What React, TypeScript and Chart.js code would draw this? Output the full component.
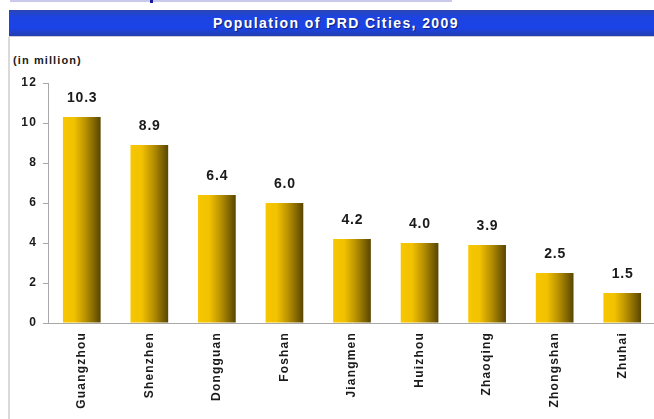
import React, { useEffect, useRef } from "react";
import { Chart, registerables } from "chart.js";

Chart.register(...registerables);

const TITLE = "Population of PRD Cities, 2009";
const UNIT_LABEL = "(in million)";
const cities = ["Guangzhou", "Shenzhen", "Dongguan", "Foshan", "Jiangmen", "Huizhou", "Zhaoqing", "Zhongshan", "Zhuhai"];
const population = [10.3, 8.9, 6.4, 6.0, 4.2, 4.0, 3.9, 2.5, 1.5];
const yTicks = [0, 2, 4, 6, 8, 10, 12];

const FONT = "'Liberation Sans', Arial, sans-serif";
const BAR_PCT = 0.558;

const valueLabels = {
  id: "valueLabels",
  beforeDraw(chart: any) {
    (chart.ctx as any).letterSpacing = "1.2px";
  },
  afterDatasetsDraw(chart: any) {
    const ctx = chart.ctx;
    const meta = chart.getDatasetMeta(0);
    ctx.save();
    (ctx as any).letterSpacing = "0.8px";
    ctx.font = `bold 14px ${FONT}`;
    ctx.fillStyle = "#1a1a1a";
    ctx.textAlign = "center";
    ctx.textBaseline = "middle";
    meta.data.forEach((el: any, i: number) => {
      ctx.fillText(population[i].toFixed(1), el.x + 0.4, el.y - 19);
    });
    ctx.restore();
  },
};

export default function App() {
  const ref = useRef<HTMLCanvasElement>(null);
  useEffect(() => {
    if (!ref.current) return;
    const chart = new Chart(ref.current, {
      type: "bar",
      data: {
        labels: cities,
        datasets: [
          {
            data: population,
            barPercentage: BAR_PCT,
            categoryPercentage: 1,
            borderWidth: 0,
            backgroundColor: (c: any) => {
              const ch = c.chart;
              const xs = ch.scales && ch.scales.x;
              if (!ch.chartArea || !xs) return "#d8aa00";
              const center = xs.getPixelForValue(c.dataIndex);
              const cw = (ch.chartArea.right - ch.chartArea.left) / cities.length;
              const w = cw * BAR_PCT;
              const g = ch.ctx.createLinearGradient(center - w / 2, 0, center + w / 2, 0);
              g.addColorStop(0, "#f8c700");
              g.addColorStop(0.3, "#f2c100");
              g.addColorStop(0.6, "#b89100");
              g.addColorStop(1, "#584500");
              return g;
            },
          },
        ],
      },
      options: {
        animation: false,
        responsive: false,
        devicePixelRatio: 1,
        layout: { padding: { top: 83, right: 8, left: 0, bottom: 0 } },
        plugins: { legend: { display: false }, tooltip: { enabled: false }, title: { display: false } },
        scales: {
          x: {
            afterFit: (s: any) => {
              s.height = 96;
            },
            grid: { display: false, drawTicks: false, drawOnChartArea: false },
            border: { display: true, color: "#a8a8a8", width: 1 },
            ticks: {
              autoSkip: false,
              minRotation: 90,
              maxRotation: 90,
              padding: 9,
              color: "#1a1a1a",
              font: { family: FONT, size: 12, weight: "bold" },
            },
          },
          y: {
            min: 0,
            max: 12,
            afterFit: (s: any) => {
              s.width = 48;
            },
            afterBuildTicks: (s: any) => {
              s.ticks = yTicks.map((v) => ({ value: v }));
            },
            grid: { drawOnChartArea: false, drawTicks: true, tickLength: 5, color: "#a8a8a8" },
            border: { display: true, color: "#a8a8a8", width: 1 },
            ticks: {
              padding: 6,
              color: "#1a1a1a",
              font: { family: FONT, size: 12, weight: "bold" },
            },
          },
        },
      },
      plugins: [valueLabels],
    } as any);
    return () => chart.destroy();
  }, []);

  return (
    <div
      style={{
        position: "fixed",
        left: 0,
        top: 0,
        width: 654,
        height: 419,
        overflow: "hidden",
        background: "#fff",
        fontFamily: FONT,
      }}
    >
      <div style={{ position: "absolute", left: 10, top: 0, width: 442, height: 2, background: "#c9c9ec" }} />
      <div style={{ position: "absolute", left: 150, top: 0, width: 3, height: 3, background: "#1a1aa0" }} />
      <div
        style={{
          position: "absolute",
          left: 9,
          top: 10,
          width: 660,
          height: 26,
          background: "linear-gradient(to bottom, #2a46b4 0%, #1d44e0 25%, #1b43e6 70%, #223eae 100%)",
          borderBottom: "1px solid #c8c8d8",
        }}
      />
      <div
        style={{
          position: "absolute",
          left: 9,
          top: 10,
          width: 654,
          height: 26,
          lineHeight: "26px",
          textAlign: "center",
          color: "#fff",
          fontWeight: "bold",
          fontSize: 14,
          letterSpacing: "1.4px",
          textShadow: "1px 1px 1px rgba(0,0,40,0.55)",
          whiteSpace: "nowrap",
        }}
      >
        {TITLE}
      </div>
      <div style={{ position: "absolute", left: 8, top: 37, width: 2, height: 382, background: "#dadada" }} />
      <div
        style={{
          position: "absolute",
          left: 13,
          top: 53,
          lineHeight: "14px",
          fontSize: 11,
          fontWeight: "bold",
          letterSpacing: "1.1px",
          color: "#1a1a1a",
          whiteSpace: "nowrap",
        }}
      >
        {UNIT_LABEL}
      </div>
      <canvas ref={ref} width={664} height={419} style={{ position: "absolute", left: 0, top: 0, width: 664, height: 419 }} />
    </div>
  );
}
